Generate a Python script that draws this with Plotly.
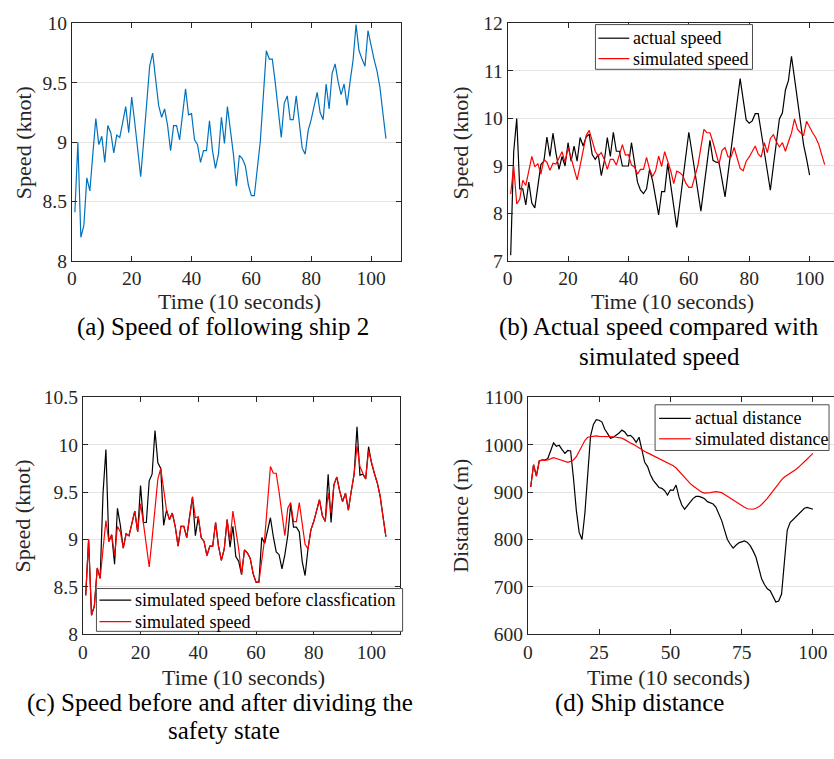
import plotly.graph_objects as go

# ---------------- data ----------------
time_speed = list(range(1, 106))          # 10-second steps, 105 samples
time_actual = list(range(1, 101))         # 100 samples

speed_following_ship2 = [
    8.41, 9.00, 8.20, 8.30, 8.70, 8.59, 8.90, 9.20, 8.98, 9.05,
    8.83, 9.14, 9.08, 8.91, 9.06, 9.04, 9.17, 9.30, 9.08, 9.38,
    9.17, 8.95, 8.71, 9.01, 9.32, 9.64, 9.75, 9.55, 9.31, 9.21,
    9.28, 9.14, 8.93, 9.14, 9.14, 9.02, 9.25, 9.45, 9.23, 9.24,
    9.02, 8.98, 8.83, 8.93, 8.93, 9.18, 8.93, 8.78, 8.90, 9.21,
    8.99, 9.30, 9.10, 8.90, 8.63, 8.89, 8.86, 8.80, 8.64, 8.55,
    8.55, 8.80, 9.01, 9.39, 9.77, 9.70, 9.70, 9.50, 9.28, 9.04,
    9.33, 9.39, 9.19, 9.19, 9.39, 9.17, 8.95, 8.90, 9.10, 9.19,
    9.31, 9.42, 9.25, 9.19, 9.49, 9.28, 9.58, 9.66, 9.51, 9.40,
    9.49, 9.31, 9.51, 9.69, 9.99, 9.77, 9.70, 9.64, 9.94, 9.81,
    9.70, 9.60, 9.46, 9.24, 9.03,
]

actual_speed = [
    7.12, 9.30, 10.00, 8.52, 8.52, 8.18, 8.66, 8.22, 8.12, 8.59,
    9.03, 9.10, 9.61, 9.20, 9.69, 9.27, 8.93, 9.20, 9.00, 9.49,
    9.10, 9.42, 9.10, 9.60, 9.42, 9.61, 9.67, 9.24, 9.14, 9.24,
    8.80, 9.10, 9.60, 9.20, 9.71, 9.31, 9.31, 9.00, 9.00, 9.00,
    9.49, 9.03, 8.66, 8.49, 8.42, 8.52, 8.93, 8.69, 8.32, 7.97,
    8.46, 8.46, 9.05, 8.60, 8.15, 7.71, 8.20, 8.70, 9.20, 9.71,
    9.30, 8.90, 8.45, 8.05, 8.55, 9.05, 9.54, 9.12, 9.08, 9.07,
    8.70, 8.35, 8.85, 9.35, 9.85, 10.35, 10.84, 10.40, 9.97, 9.90,
    9.95, 10.10, 10.10, 9.70, 9.30, 8.90, 8.49, 9.00, 9.50, 9.99,
    10.12, 10.60, 10.80, 11.31, 10.85, 10.35, 9.90, 9.45, 9.15, 8.81,
]

speed_before_classification = [
    8.41, 9.00, 8.20, 8.30, 8.70, 8.59, 9.49, 9.95, 8.98, 9.05,
    8.74, 9.33, 9.15, 8.91, 9.06, 9.04, 9.17, 9.30, 9.08, 9.57,
    9.18, 9.18, 9.62, 9.69, 10.15, 9.81, 9.75, 9.15, 9.31, 9.21,
    9.28, 9.14, 8.93, 9.14, 9.14, 9.02, 9.25, 9.45, 9.04, 9.24,
    9.02, 8.98, 8.83, 8.93, 8.93, 9.18, 8.93, 8.78, 8.90, 9.21,
    8.92, 9.14, 8.82, 8.77, 8.63, 8.89, 8.86, 8.80, 8.64, 8.55,
    8.55, 9.02, 8.96, 9.08, 9.23, 9.03, 8.87, 8.84, 8.69, 8.84,
    9.04, 9.37, 9.13, 9.13, 9.08, 8.77, 8.62, 8.90, 9.10, 9.19,
    9.31, 9.42, 9.25, 9.19, 9.69, 9.18, 9.58, 9.66, 9.51, 9.40,
    9.49, 9.31, 9.51, 9.69, 10.19, 9.68, 9.69, 9.64, 9.98, 9.81,
    9.70, 9.60, 9.46, 9.24, 9.03,
]

actual_distance = [
    911, 958, 934, 966, 968, 968, 971, 988, 1004, 997,
    999, 990, 982, 988, 987, 930, 862, 815, 800, 855,
    944, 1019, 1043, 1053, 1052, 1048, 1033, 1022, 1014, 1016,
    1020, 1025, 1031, 1027, 1019, 1020, 1014, 1005, 1016, 988,
    963, 954, 937, 925, 917, 910, 908, 903, 894, 905,
    904, 915, 890, 873, 864, 872, 881, 887, 891, 891,
    889, 886, 880, 877, 875, 868, 854, 840, 820, 800,
    790, 782, 788, 793, 795, 797, 794, 787, 776, 763,
    740, 717, 705, 696, 692, 680, 668, 670, 685, 753,
    820, 836, 842, 849, 854, 860, 866, 868, 866, 864,
]

simulated_distance = [
    911, 958, 934, 966, 968, 967, 968, 971, 973, 971,
    969, 967, 965, 963, 965, 968, 975, 986, 1000, 1009,
    1016, 1017, 1018, 1019, 1018, 1018, 1017, 1017, 1017, 1017,
    1016, 1015, 1014, 1011, 1007, 1004, 1001, 997, 993, 989,
    986, 983, 980, 977, 974, 972, 969, 966, 963, 960,
    956, 951, 944, 937, 930, 923, 918, 913, 908, 903,
    900, 898, 898, 899, 900, 901, 900, 899, 895, 891,
    887, 883, 879, 876, 872, 868, 865, 864, 864, 866,
    869, 874, 880, 887, 895, 903, 910, 918, 926, 932,
    936, 939, 943, 948, 953, 958, 964, 970, 976, 982,
]

speed_ticks_a = [8, 8.5, 9, 9.5, 10]
speed_ticks_b = [7, 8, 9, 10, 11, 12]
speed_ticks_c = [8, 8.5, 9, 9.5, 10, 10.5]
distance_ticks = [600, 700, 800, 900, 1000, 1100]
time_ticks = [0, 20, 40, 60, 80, 100]
time_ticks_d = [0, 25, 50, 75, 100]

legend_b = ["actual speed", "simulated speed"]
legend_c = ["simulated speed before classfication", "simulated speed"]
legend_d = ["actual distance", "simulated distance"]

# ---------------- styling ----------------
W, H = 834, 759
FONT = "Liberation Serif, Times New Roman, serif"
TICK_FONT = dict(family=FONT, size=19.5, color="#262626")
LABEL_FONT = dict(family=FONT, size=22, color="#262626")
CAP_FONT = dict(family=FONT, size=25, color="#000000")
LEG_FONT = dict(family=FONT, size=18, color="#000000")
BLUE = "#0072BD"
RED = "#FF0000"
BLACK = "#000000"
GRID = "#E3E3E3"
AX = "#262626"
LEG_BORDER = "#4D4D4D"


def px_x(x):
    return x / W


def px_y(y):
    return 1 - y / H


fig = go.Figure()

# panel (a)
fig.add_trace(go.Scatter(x=time_speed, y=speed_following_ship2, mode="lines",
                         name="speed of following ship 2",
                         line=dict(color=BLUE, width=1.2), xaxis="x", yaxis="y"))
# panel (b)
fig.add_trace(go.Scatter(x=time_actual, y=actual_speed, mode="lines", name=legend_b[0],
                         line=dict(color=BLACK, width=1.2), xaxis="x2", yaxis="y2"))
fig.add_trace(go.Scatter(x=time_speed, y=speed_following_ship2, mode="lines", name=legend_b[1],
                         line=dict(color=RED, width=1.2), xaxis="x2", yaxis="y2"))
# panel (c)
fig.add_trace(go.Scatter(x=time_speed, y=speed_before_classification, mode="lines",
                         name=legend_c[0],
                         line=dict(color=BLACK, width=1.2), xaxis="x3", yaxis="y3"))
fig.add_trace(go.Scatter(x=time_speed, y=speed_following_ship2, mode="lines", name=legend_c[1],
                         line=dict(color=RED, width=1.2), xaxis="x3", yaxis="y3"))
# panel (d)
fig.add_trace(go.Scatter(x=time_actual, y=actual_distance, mode="lines", name=legend_d[0],
                         line=dict(color=BLACK, width=1.2), xaxis="x4", yaxis="y4"))
fig.add_trace(go.Scatter(x=time_actual, y=simulated_distance, mode="lines", name=legend_d[1],
                         line=dict(color=RED, width=1.2), xaxis="x4", yaxis="y4"))
fig.update_traces(showlegend=False)


def xaxis(domain, rng, ticks, anchor):
    return dict(domain=domain, range=rng, tickvals=ticks, ticktext=[str(t) for t in ticks],
                anchor=anchor, showgrid=False, zeroline=False, showline=True,
                linecolor=AX, linewidth=1, mirror="ticks",
                ticks="inside", ticklen=5, tickcolor=AX, tickfont=TICK_FONT, fixedrange=True)


def yaxis(domain, rng, ticks, anchor, mirror=True):
    return dict(domain=domain, range=rng, tickvals=ticks, ticktext=[f"{t:g}" for t in ticks],
                anchor=anchor, showgrid=True, gridcolor=GRID, gridwidth=1, zeroline=False,
                showline=True, linecolor=AX, linewidth=1,
                mirror="ticks" if mirror else False,
                ticks="inside", ticklen=5, tickcolor=AX, tickfont=TICK_FONT, fixedrange=True)


top_dom = [px_y(258.2), px_y(13.8)]
bot_dom = [px_y(642.0), px_y(398.5)]

fig.update_layout(
    width=W, height=H,
    margin=dict(l=0, r=0, t=0, b=0),
    paper_bgcolor="white", plot_bgcolor="white",
    hovermode=False, showlegend=False,
    xaxis=xaxis([px_x(67.3), px_x(398.3)], [0, 110], time_ticks, "y"),
    yaxis=yaxis(top_dom, [8, 10], speed_ticks_a, "x"),
    xaxis2=xaxis([px_x(505.7), 1.0], [0, (W - 505.7) / 3.0375], time_ticks, "y2"),
    yaxis2=yaxis(top_dom, [7, 12], speed_ticks_b, "x2", mirror=False),
    xaxis3=xaxis([px_x(78.3), px_x(397.7)], [0, 110], time_ticks, "y3"),
    yaxis3=yaxis(bot_dom, [8, 10.5], speed_ticks_c, "x3"),
    xaxis4=xaxis([px_x(526.0), 1.0], [0, (W - 526.0) / 2.868], time_ticks_d, "y4"),
    yaxis4=yaxis(bot_dom, [600, 1100], distance_ticks, "x4", mirror=False),
)

annotations = [
    # y-axis titles
    dict(text="Speed (knot)", x=px_x(18), y=px_y(136), textangle=-90, font=LABEL_FONT),
    dict(text="Speed (knot)", x=px_x(458), y=px_y(137), textangle=-90, font=LABEL_FONT),
    dict(text="Speed (knot)", x=px_x(18), y=px_y(520), textangle=-90, font=LABEL_FONT),
    dict(text="Distance (m)", x=px_x(458), y=px_y(520), textangle=-90, font=LABEL_FONT),
    # x-axis titles
    dict(text="Time (10 seconds)", x=px_x(236), y=px_y(300), font=LABEL_FONT),
    dict(text="Time (10 seconds)", x=px_x(672), y=px_y(300), font=LABEL_FONT),
    dict(text="Time (10 seconds)", x=px_x(240), y=px_y(686), font=LABEL_FONT),
    dict(text="Time (10 seconds)", x=px_x(668), y=px_y(686), font=LABEL_FONT),
    # captions
    dict(text="(a) Speed of following ship 2", x=px_x(219), y=px_y(326), font=CAP_FONT),
    dict(text="(b) Actual speed compared with", x=px_x(658), y=px_y(326), font=CAP_FONT),
    dict(text="simulated speed", x=px_x(658), y=px_y(356), font=CAP_FONT),
    dict(text="(c) Speed before and after dividing the", x=px_x(216), y=px_y(713), font=CAP_FONT),
    dict(text="safety state", x=px_x(220), y=px_y(741), font=CAP_FONT),
    dict(text="(d) Ship distance", x=px_x(638), y=px_y(713), font=CAP_FONT),
]
for a in annotations:
    a.update(xanchor="center", yanchor="middle")

# legends (MATLAB-style boxes): box, line swatches and labels
shapes = []
legend_specs = [
    # (box x0, x1, y0, y1, swatch x0, x1, row ys, labels)
    (594, 752, 15, 61, 597, 628, (29, 50), legend_b),
    (92, 400, 595, 639, 95, 127, (607, 629), legend_c),
    (654, 829, 406, 453, 658, 690, (420, 441), legend_d),
]
for bx0, bx1, by0, by1, sx0, sx1, rows, labels in legend_specs:
    shapes.append(dict(type="rect", xref="paper", yref="paper",
                       x0=px_x(bx0), x1=px_x(bx1), y0=px_y(by1), y1=px_y(by0),
                       fillcolor="white", line=dict(color=LEG_BORDER, width=1), layer="above"))
    for ry, lab, col in zip(rows, labels, [BLACK, RED]):
        shapes.append(dict(type="line", xref="paper", yref="paper",
                           x0=px_x(sx0), x1=px_x(sx1), y0=px_y(ry), y1=px_y(ry),
                           line=dict(color=col, width=1.2), layer="above"))
        annotations.append(dict(text=lab, x=px_x(sx1 + 2), y=px_y(ry),
                                xanchor="left", yanchor="middle", font=LEG_FONT))

for a in annotations:
    a.update(xref="paper", yref="paper", showarrow=False)
fig.update_layout(annotations=annotations, shapes=shapes)

fig.write_html("out.html", config={"displayModeBar": False, "staticPlot": True})
